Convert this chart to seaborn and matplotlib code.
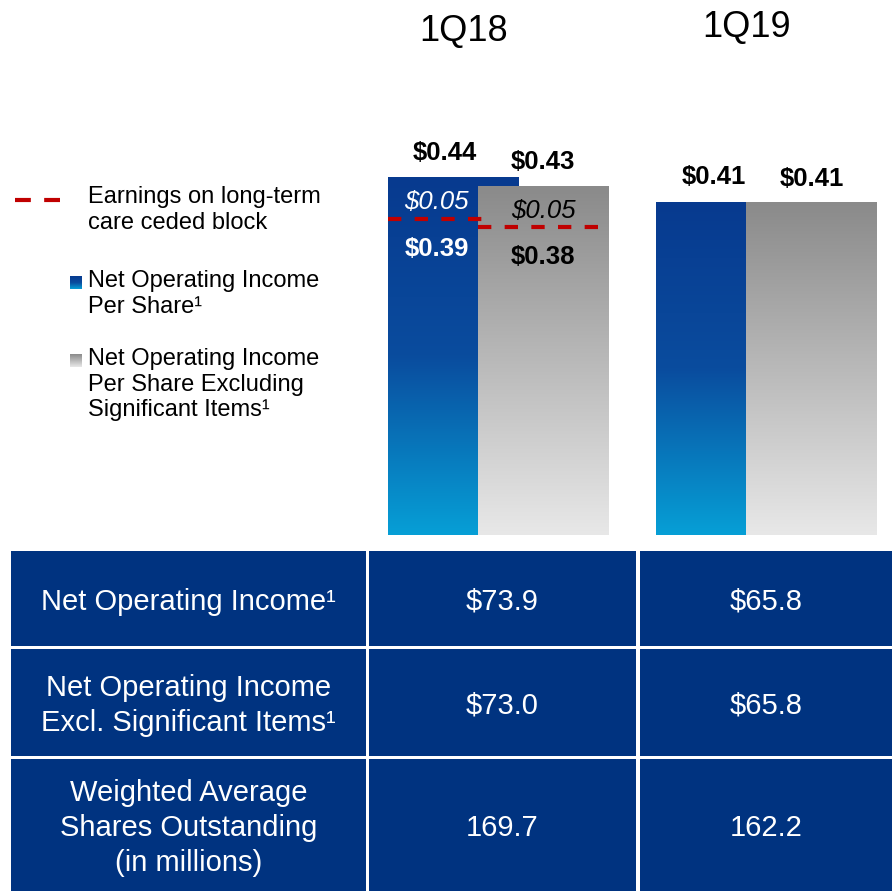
import numpy as np
import pandas as pd
import matplotlib
matplotlib.use("Agg")
from matplotlib import pyplot as plt
from matplotlib.colors import LinearSegmentedColormap
from matplotlib.patches import Rectangle
import seaborn as sns

# values
periods = ["1Q18", "1Q19"]
noi_per_share = [0.44, 0.41]
noi_per_share_excl = [0.43, 0.41]
ceded_block_noi = [0.05, None]
ceded_block_excl = [0.05, None]

row_labels = ["Net Operating Income¹",
              "Net Operating Income\nExcl. Significant Items¹",
              "Weighted Average\nShares Outstanding\n(in millions)"]
col_1q18 = ["$73.9", "$73.0", "169.7"]
col_1q19 = ["$65.8", "$65.8", "162.2"]

series_names = ["Net Operating Income\nPer Share¹",
                "Net Operating Income\nPer Share Excluding\nSignificant Items¹"]

sns.set_style("white")
plt.rcParams["font.family"] = ["Liberation Sans", "DejaVu Sans"]
plt.rcParams["text.color"] = "black"

navy = "#003380"
blue_cmap = LinearSegmentedColormap.from_list("b", ["#069fd6", "#0a4c9e", "#073a8f"])
gray_cmap = LinearSegmentedColormap.from_list("g", ["#e8e8e8", "#8a8a8a"])
grad = np.linspace(0, 1, 256).reshape(-1, 1)

df = pd.DataFrame({
    "period": periods * 2,
    "value": noi_per_share + noi_per_share_excl,
    "series": ["noi"] * 2 + ["excl"] * 2,
})

fig = plt.figure(figsize=(8.92, 8.91), dpi=100)
W, H = 892, 891
px_per_unit = 811.4
ax = fig.add_axes([364 / W, (H - 535) / H, 528 / W, 475 / H])
sns.barplot(data=df, x="period", y="value", hue="series", dodge=True, width=0.67,
            palette=["#0a4c9e", "#8a8a8a"], saturation=1, linewidth=0,
            legend=False, ax=ax)
xlim = (-0.5, -0.5 + 528 / 268.5)
ylim = (0, 475 / px_per_unit)

bar_w = 131 / 268.5
cmaps = [blue_cmap, gray_cmap]
for k, cont in enumerate(ax.containers):
    for bar in cont:
        c = bar.get_x() + bar.get_width() / 2
        bar.set_width(bar_w)
        bar.set_x(c - bar_w / 2)
        bar.set_visible(False)
        x0, h = bar.get_x(), bar.get_height()
        ax.imshow(grad, extent=[x0, x0 + bar_w, 0, h], origin="lower", aspect="auto",
                  cmap=cmaps[k], zorder=2 + k, interpolation="bicubic")

blue_bars = list(ax.containers[0])
gray_bars = list(ax.containers[1])

# value labels on top
for i, bar in enumerate(blue_bars):
    c = bar.get_x() + bar.get_width() / 2
    ax.annotate(f"${noi_per_share[i]:.2f}", (c, noi_per_share[i]), xytext=(-6, 18),
                textcoords="offset points", ha="center", va="center",
                fontsize=18.5, fontweight="bold", zorder=6)
for i, bar in enumerate(gray_bars):
    c = bar.get_x() + bar.get_width() / 2
    ax.annotate(f"${noi_per_share_excl[i]:.2f}", (c, noi_per_share_excl[i]), xytext=(0, 17),
                textcoords="offset points", ha="center", va="center",
                fontsize=18.5, fontweight="bold", zorder=6)

# ceded block split
for bars, totals, ceded, col, xo in [
        (blue_bars, noi_per_share, ceded_block_noi, "white", -12),
        (gray_bars, noi_per_share_excl, ceded_block_excl, "black", 0)]:
    for i, bar in enumerate(bars):
        if ceded[i] is None:
            continue
        base = totals[i] - ceded[i]
        x0 = bar.get_x()
        c = x0 + bar.get_width() / 2
        ax.hlines(base, x0, x0 + bar.get_width() * (0.73 if col == "white" else 1.0),
                  colors="#c00000", linewidth=3, linestyles=(0, (3.2, 3.2)), zorder=5)
        ax.annotate(f"${ceded[i]:.2f}", (c, (totals[i] + base) / 2), xytext=(xo, -3),
                    textcoords="offset points", ha="center", va="center",
                    fontsize=18.5, fontstyle="italic", color=col, zorder=6)
        ax.annotate(f"${base:.2f}", (c, base), xytext=(xo, -22),
                    textcoords="offset points", ha="center", va="center",
                    fontsize=18.5, fontweight="bold", color=col, zorder=6)

ax.set_xlim(*xlim)
ax.set_ylim(*ylim)
ax.set_axis_off()

# period headers
fig.text(464 / W, 1 - 31 / H, periods[0], ha="center", va="center", fontsize=26)
fig.text(747 / W, 1 - 27 / H, periods[1], ha="center", va="center", fontsize=26)

# overlay for legend and table
lay = fig.add_axes([0, 0, 1, 1])
lay.set_xlim(0, W)
lay.set_ylim(H, 0)
lay.set_axis_off()
lay.patch.set_alpha(0)

lay.plot([15, 62], [200, 200], color="#c00000", linewidth=3, linestyle=(0, (3.8, 3.2)))
lay.text(88, 186, "Earnings on long-term\ncare ceded block", fontsize=17,
         va="top", ha="left", linespacing=1.21)
for j, (y0, name) in enumerate([(276, series_names[0]), (354, series_names[1])]):
    lay.imshow(grad, extent=[70, 82, y0 + 13, y0], origin="lower", aspect="auto",
               cmap=cmaps[j], zorder=3)
    lay.text(88, y0 - 6, name, fontsize=17, va="top", ha="left", linespacing=1.21)

# table
col_edges = [(11, 366), (369, 636), (640, 892)]
row_edges = [(551, 646), (649, 756), (759, 891)]
for r, (ya, yb) in enumerate(row_edges):
    cells = [row_labels[r], col_1q18[r], col_1q19[r]]
    for ci, (xa, xb) in enumerate(col_edges):
        lay.add_patch(Rectangle((xa, ya), xb - xa, yb - ya, facecolor=navy,
                                edgecolor="none", zorder=2))
        lay.text((xa + xb) / 2, (ya + yb) / 2 + 3, cells[ci], color="white",
                 fontsize=21, ha="center", va="center", linespacing=1.3, zorder=3)

lay.set_xlim(0, W)
lay.set_ylim(H, 0)

fig.savefig("out.png", dpi=100)
